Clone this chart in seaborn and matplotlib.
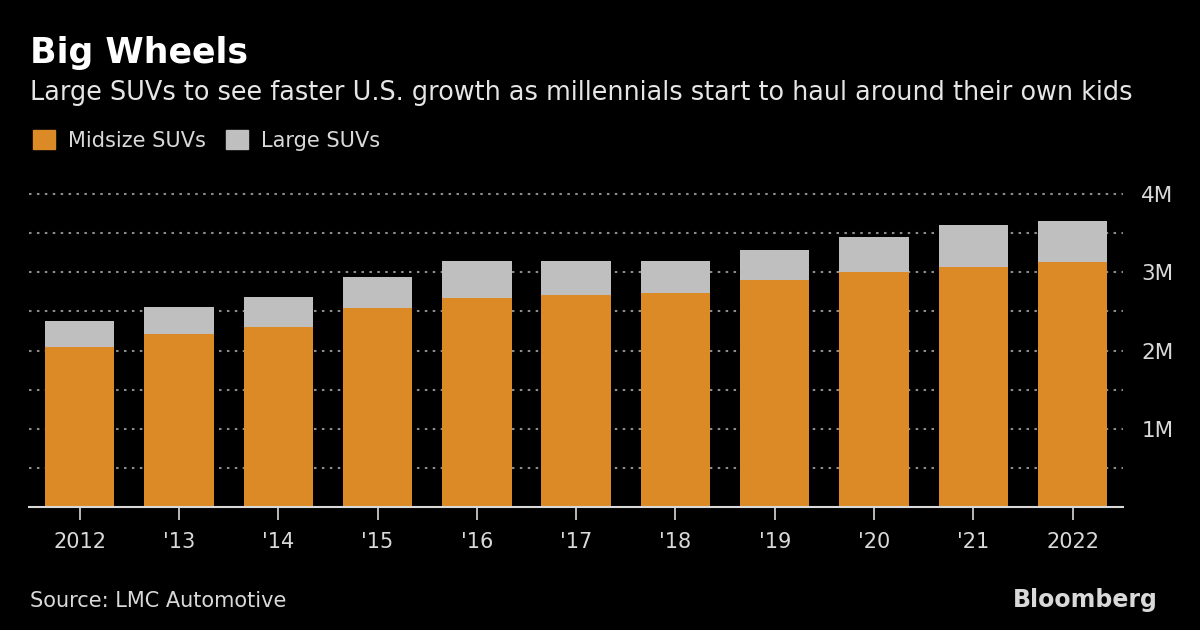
import matplotlib
matplotlib.use("Agg")
import matplotlib.pyplot as plt
import matplotlib.patches as mpatches
import pandas as pd
import seaborn as sns

# Data (units: million vehicles)
years = ["2012", "'13", "'14", "'15", "'16", "'17", "'18", "'19", "'20", "'21", "2022"]
midsize = [2.05, 2.21, 2.30, 2.545, 2.67, 2.71, 2.73, 2.90, 3.005, 3.065, 3.13]
large = [0.325, 0.35, 0.39, 0.395, 0.475, 0.435, 0.415, 0.39, 0.445, 0.535, 0.53]
y_ticks = [1, 2, 3, 4]
y_tick_labels = ["1M", "2M", "3M", "4M"]

ORANGE = "#DB8A25"
GREY = "#BFBFBF"
BG = "#000000"

df = pd.DataFrame({"year": years, "midsize": midsize, "large": large})
df["midsize"] = df["midsize"] * 1e6
df["total"] = df["midsize"] + df["large"] * 1e6

sns.set_style("dark")
plt.rcParams["font.family"] = ["DejaVu Sans"]

fig = plt.figure(figsize=(12, 6.3), dpi=100, facecolor=BG)
ax = fig.add_axes([0.0242, 0.1948, 0.9118, 0.5035])
ax.set_facecolor(BG)

# Stacked bars: total (grey) first, then midsize (orange) on top
sns.barplot(data=df, x="year", y="total", color=GREY, width=0.7,
            saturation=1, edgecolor="none", ax=ax, zorder=3)
sns.barplot(data=df, x="year", y="midsize", color=ORANGE, width=0.7,
            saturation=1, edgecolor="none", ax=ax, zorder=4)

ax.set_xlim(-0.51, 10.51)
ax.set_ylim(0, 4.05e6)
ax.set_xlabel("")
ax.set_ylabel("")

# y axis on the right
ax.yaxis.tick_right()
ax.set_yticks([v * 1e6 for v in y_ticks])
ax.set_yticklabels(y_tick_labels)
ax.set_yticks([v * 1e6 for v in [0.5, 1.5, 2.5, 3.5]], minor=True)
ax.tick_params(axis="y", which="both", length=0, pad=13,
               labelsize=15.5, labelcolor="#D9D9D9")
ax.grid(False)
ax.yaxis.grid(True, which="both", color="#8C8C8C", linestyle=(0, (1.2, 2.6)),
              linewidth=1.5, zorder=1)

ax.tick_params(axis="x", bottom=True, length=9, width=1.2, color="#D9D9D9",
               pad=9, labelsize=15, labelcolor="#D9D9D9")

for side in ["top", "left", "right"]:
    ax.spines[side].set_visible(False)
ax.spines["bottom"].set_color("#D9D9D9")
ax.spines["bottom"].set_linewidth(1.5)
ax.spines["bottom"].set_zorder(5)

# Titles
fig.text(0.025, 0.90, "Big Wheels", color="white", fontsize=25,
         fontweight="bold", va="baseline")
fig.text(0.025, 0.842, "Large SUVs to see faster U.S. growth as millennials start to haul around their own kids",
         color="#E6E6E6", fontsize=18.4, va="baseline")

# Legend
handles = [mpatches.Patch(color=ORANGE, label="Midsize SUVs"),
           mpatches.Patch(color=GREY, label="Large SUVs")]
leg = fig.legend(handles=handles, loc="center left", bbox_to_anchor=(0.012, 0.777),
                 ncol=2, frameon=False, fontsize=15, handlelength=1.05,
                 handleheight=1.05, handletextpad=0.6, columnspacing=1.0)
for t in leg.get_texts():
    t.set_color("#D9D9D9")

# Footer
fig.text(0.025, 0.03, "Source: LMC Automotive", color="#D9D9D9",
         fontsize=15, va="bottom")
fig.text(0.965, 0.028, "Bloomberg", color="#D9D9D9", fontsize=17,
         fontweight="bold", ha="right", va="bottom")

fig.savefig("out.png", dpi=100, facecolor=BG)
